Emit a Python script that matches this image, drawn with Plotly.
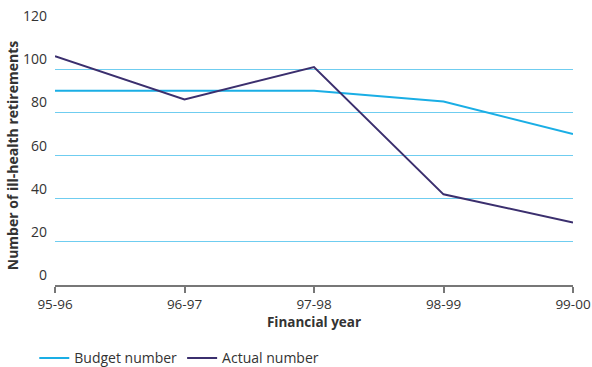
import plotly.graph_objects as go

years = ["95-96", "96-97", "97-98", "98-99", "99-00"]
budget = [90, 90, 90, 85, 70]
actual = [106, 86, 101, 42, 29]
y_ticks = [0, 20, 40, 60, 80, 100, 120]

font_family = "Open Sans, Lato, sans-serif"
text_color = "#333333"

fig = go.Figure()
fig.add_trace(go.Scatter(
    x=list(range(len(years))), y=budget, name="Budget number", mode="lines",
    line=dict(color="#1aaee5", width=2),
))
fig.add_trace(go.Scatter(
    x=list(range(len(years))), y=actual, name="Actual number", mode="lines",
    line=dict(color="#3b2f6e", width=2),
))

fig.update_layout(
    width=592, height=367,
    margin=dict(l=55, r=19, t=26, b=82, autoexpand=False),
    paper_bgcolor="white", plot_bgcolor="white",
    font=dict(family=font_family, size=13, color=text_color),
    showlegend=True,
    legend=dict(
        orientation="h", x=-0.04, xanchor="left", y=-0.283, yanchor="middle",
        font=dict(size=14, color=text_color), itemwidth=30,
    ),
    xaxis=dict(
        tickmode="array", tickvals=list(range(len(years))), ticktext=years,
        range=[0, len(years) - 1], showgrid=False, zeroline=False,
        showline=True, linecolor="#777777", linewidth=1.5,
        ticks="outside", ticklen=6, tickcolor="#777777", tickwidth=1.5,
        title=dict(text="<b>Financial year</b>", font=dict(size=13.5), standoff=6),
        tickfont=dict(size=13.5), automargin=False,
    ),
    yaxis=dict(
        range=[0, 120], tickmode="array", tickvals=y_ticks,
        showgrid=True, gridcolor="#6fcdf0", gridwidth=1,
        zeroline=False, showline=False, ticks="",
        ticklabelposition="outside top", ticklabelstandoff=7,
        title=dict(text="<b>Number of ill-health retirements</b>", font=dict(size=14), standoff=1),
        tickfont=dict(size=14), automargin=False,
    ),
)

fig.write_html("out.html")
